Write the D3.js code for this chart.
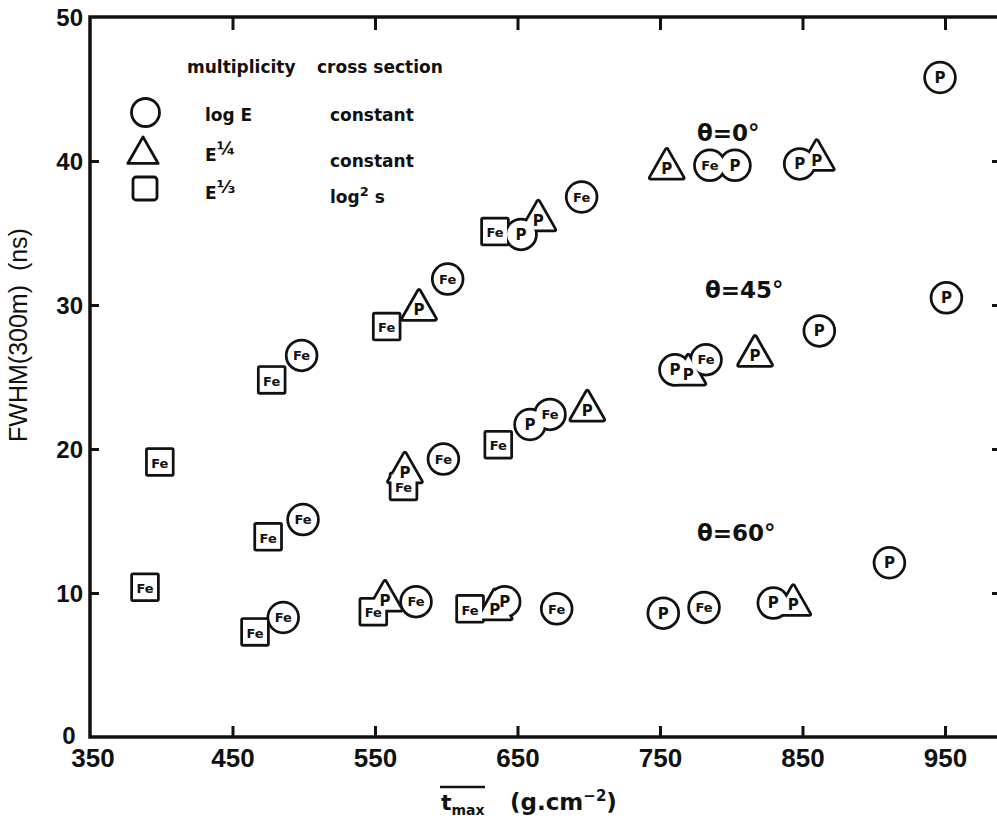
<!DOCTYPE html>
<html>
<head>
<meta charset="utf-8">
<script src="https://cdn.jsdelivr.net/npm/d3@7"></script>
<style>
  html, body { margin: 0; padding: 0; background: #fff; }
  svg { display: block; }
</style>
</head>
<body>
<svg id="chart" width="997" height="827"></svg>
<script>
// ---------------- data ----------------
const xTicks = [450, 550, 650, 750, 850, 950];
const yTicks = [10, 20, 30, 40];
// [t_max (g cm^-2), FWHM (ns)]
const circleFe = [[498.5,26.5],[601,31.8],[695,37.5],[785,39.7],
                  [499.5,15.1],[598,19.3],[672.8,22.4],[782.3,26.2],
                  [485.6,8.3],[578.8,9.4],[677.5,8.9],[780.9,9.0]];
const circleP  = [[652.5,34.9],[802.6,39.7],[848,39.8],[946.5,45.8],
                  [658.8,21.7],[760.5,25.5],[861.8,28.2],[951,30.5],
                  [641,9.4],[752.3,8.6],[829.5,9.3],[911,12.1]];
const triangleP = [[580.9,29.8],[664.6,36.0],[754.7,39.6],[860,40.2],
                   [571,18.5],[699,22.8],[769.9,25.3],[816.7,26.6],
                   [557,9.6],[634,9.0],[843.5,9.3]];
const squareFe = [[399,19.1],[477.5,24.8],[558.2,28.5],[634.2,35.1],
                  [475,13.9],[570,17.4],[636.5,20.3],
                  [388.6,10.4],[465.8,7.3],[548.8,8.7],[616.7,8.9]];
const angleLabels = [{t: "θ=0°", x: 697, y: 41.4}, {t: "θ=45°", x: 705, y: 30.5}, {t: "θ=60°", x: 697, y: 13.6}];

// ---------------- layout ----------------
const svg = d3.select("#chart");
const x = d3.scaleLinear().domain([350, 990]).range([90, 1002]);
const y = d3.scaleLinear().domain([0, 50]).range([737, 17]);
const INK = "#111";
const numFont = "'Liberation Sans', Arial, sans-serif";
const txtFont = "'DejaVu Sans', sans-serif";

// frame
const g = svg.append("g");
g.append("rect").attr("x", x(350)).attr("y", y(50))
  .attr("width", x(990) - x(350)).attr("height", y(0) - y(50))
  .attr("fill", "none").attr("stroke", INK).attr("stroke-width", 3.5);

// axes with inward ticks
const xb = d3.axisBottom(x).tickValues(xTicks).tickSize(-11).tickFormat(d3.format("d"));
const xt = d3.axisTop(x).tickValues(xTicks).tickSize(-13).tickFormat("");
const yl = d3.axisLeft(y).tickValues(yTicks).tickSize(-9).tickFormat(d3.format("d"));
const yr = d3.axisRight(y).tickValues(yTicks).tickSize(-10).tickFormat("");

function style(sel) {
  sel.select(".domain").remove();
  sel.selectAll(".tick line").attr("stroke", INK).attr("stroke-width", 3);
}
g.append("g").attr("transform", `translate(0,${y(0)})`).call(xb).call(style)
  .selectAll(".tick text").attr("font-family", numFont).attr("font-weight", "bold")
  .attr("font-size", 26).attr("fill", INK).attr("dy", null).attr("y", 30);
g.append("g").attr("transform", `translate(0,${y(50)})`).call(xt).call(style);
g.append("g").attr("transform", `translate(${x(350)},0)`).call(yl).call(style)
  .selectAll(".tick text").attr("font-family", numFont).attr("font-weight", "bold")
  .attr("font-size", 24).attr("fill", INK).attr("x", -7).attr("dy", "0.36em");
g.append("g").attr("transform", `translate(${x(990)},0)`).call(yr).call(style);

// corner labels (50 at top, 0 and 350 at origin)
g.append("text").attr("x", x(350) - 7).attr("y", y(50)).attr("dy", "0.36em")
  .attr("text-anchor", "end").attr("font-family", numFont).attr("font-weight", "bold")
  .attr("font-size", 24).attr("fill", INK).text("50");
g.append("text").attr("x", x(350) - 21).attr("y", y(0) + 7)
  .attr("text-anchor", "middle").attr("font-family", numFont).attr("font-weight", "bold")
  .attr("font-size", 24).attr("fill", INK).text("0");
g.append("text").attr("x", x(350) + 3).attr("y", y(0) + 30)
  .attr("text-anchor", "middle").attr("font-family", numFont).attr("font-weight", "bold")
  .attr("font-size", 26).attr("fill", INK).text("350");

// axis titles
g.append("text").attr("transform", `translate(27,${335}) rotate(-90)`)
  .attr("text-anchor", "middle").attr("font-family", numFont).attr("font-size", 25)
  .attr("fill", INK).attr("xml:space", "preserve").text("FWHM(300m)  (ns)");

const xt1 = g.append("text").attr("x", 441).attr("y", 810)
  .attr("font-family", txtFont).attr("font-weight", "bold").attr("font-size", 22).attr("fill", INK);
xt1.append("tspan").text("t");
xt1.append("tspan").attr("dy", 5).attr("font-size", 14).text("max");
g.append("line").attr("x1", 440).attr("x2", 485).attr("y1", 787).attr("y2", 787)
  .attr("stroke", INK).attr("stroke-width", 2.5);
const xt2 = g.append("text").attr("x", 510).attr("y", 810)
  .attr("font-family", txtFont).attr("font-weight", "bold").attr("font-size", 23).attr("fill", INK);
xt2.append("tspan").text("(g.cm");
xt2.append("tspan").attr("dy", -9).attr("font-size", 15).text("−2");
xt2.append("tspan").attr("dy", 9).text(")");

// ---------------- markers ----------------
const triPath = (s) => `M0,${-17*s} L${16*s},${11*s} L${-16*s},${11*s} Z`;
const sqPath = (s) => `M${-12*s},${-12*s} H${12*s} V${12*s} H${-12*s} Z`;
const circPath = (s) => { const r = 14*s; return `M${r},0 A${r},${r} 0 1 1 ${-r},0 A${r},${r} 0 1 1 ${r},0 Z`; };

const marks = [];
circleFe.forEach(d => marks.push({x: d[0], y: d[1], shape: "c", lab: "Fe"}));
circleP.forEach(d => marks.push({x: d[0], y: d[1], shape: "c", lab: "P"}));
triangleP.forEach(d => marks.push({x: d[0], y: d[1], shape: "t", lab: "P"}));
squareFe.forEach(d => marks.push({x: d[0], y: d[1], shape: "s", lab: "Fe"}));
const pathOf = m => m.shape === "c" ? circPath(1) : m.shape === "t" ? triPath(1) : sqPath(1);

const mg = svg.append("g");
// outline layer (thick black), then white fill layer: overlapping markers merge like the original
mg.append("g").selectAll("path").data(marks).join("path")
  .attr("transform", d => `translate(${x(d.x)},${y(d.y)})`)
  .attr("d", pathOf).attr("fill", INK).attr("stroke", INK)
  .attr("stroke-width", 5.5).attr("stroke-linejoin", "round");
mg.append("g").selectAll("path").data(marks).join("path")
  .attr("transform", d => `translate(${x(d.x)},${y(d.y)})`)
  .attr("d", pathOf).attr("fill", "#fff").attr("stroke", "none");
mg.append("g").selectAll("text").data(marks).join("text")
  .attr("x", d => x(d.x)).attr("y", d => y(d.y) + (d.shape === "t" ? 2 : d.shape === "s" ? 1 : 0))
  .attr("dy", "0.36em").attr("text-anchor", "middle")
  .attr("font-family", txtFont).attr("font-weight", "bold")
  .attr("font-size", d => d.lab === "P" ? 15 : 13).attr("fill", INK).text(d => d.lab);

// angle labels
svg.append("g").selectAll("text").data(angleLabels).join("text")
  .attr("x", d => d.x).attr("y", d => y(d.y))
  .attr("font-family", txtFont).attr("font-weight", "bold").attr("font-size", 23)
  .attr("fill", INK).text(d => d.t);

// ---------------- legend ----------------
const lg = svg.append("g").attr("font-family", txtFont).attr("font-weight", "bold")
  .attr("font-size", 17).attr("fill", INK);
lg.append("text").attr("x", 187).attr("y", 73).text("multiplicity");
lg.append("text").attr("x", 317).attr("y", 73).text("cross section");
lg.append("path").attr("transform", "translate(145.5,112.5)").attr("d", circPath(1.0))
  .attr("fill", "none").attr("stroke", INK).attr("stroke-width", 2.8);
lg.append("path").attr("transform", "translate(143,153)").attr("d", triPath(0.95))
  .attr("fill", "none").attr("stroke", INK).attr("stroke-width", 2.8).attr("stroke-linejoin", "round");
lg.append("rect").attr("x", 133).attr("y", 177).attr("width", 24).attr("height", 23).attr("rx", 3)
  .attr("fill", "none").attr("stroke", INK).attr("stroke-width", 2.8);
lg.append("text").attr("x", 205).attr("y", 121).text("log E");
lg.append("text").attr("x", 330).attr("y", 121).text("constant");
const e4 = lg.append("text").attr("x", 205).attr("y", 161);
e4.append("tspan").text("E");
e4.append("tspan").attr("dy", -6).attr("font-size", 18).text("¼");
lg.append("text").attr("x", 330).attr("y", 167).text("constant");
const e3 = lg.append("text").attr("x", 205).attr("y", 199);
e3.append("tspan").text("E");
e3.append("tspan").attr("dy", -6).attr("font-size", 18).text("⅓");
const l2 = lg.append("text").attr("x", 330).attr("y", 203);
l2.append("tspan").text("log");
l2.append("tspan").attr("dy", -7).attr("font-size", 13).text("2");
l2.append("tspan").attr("dy", 7).text(" s");
</script>
</body>
</html>
